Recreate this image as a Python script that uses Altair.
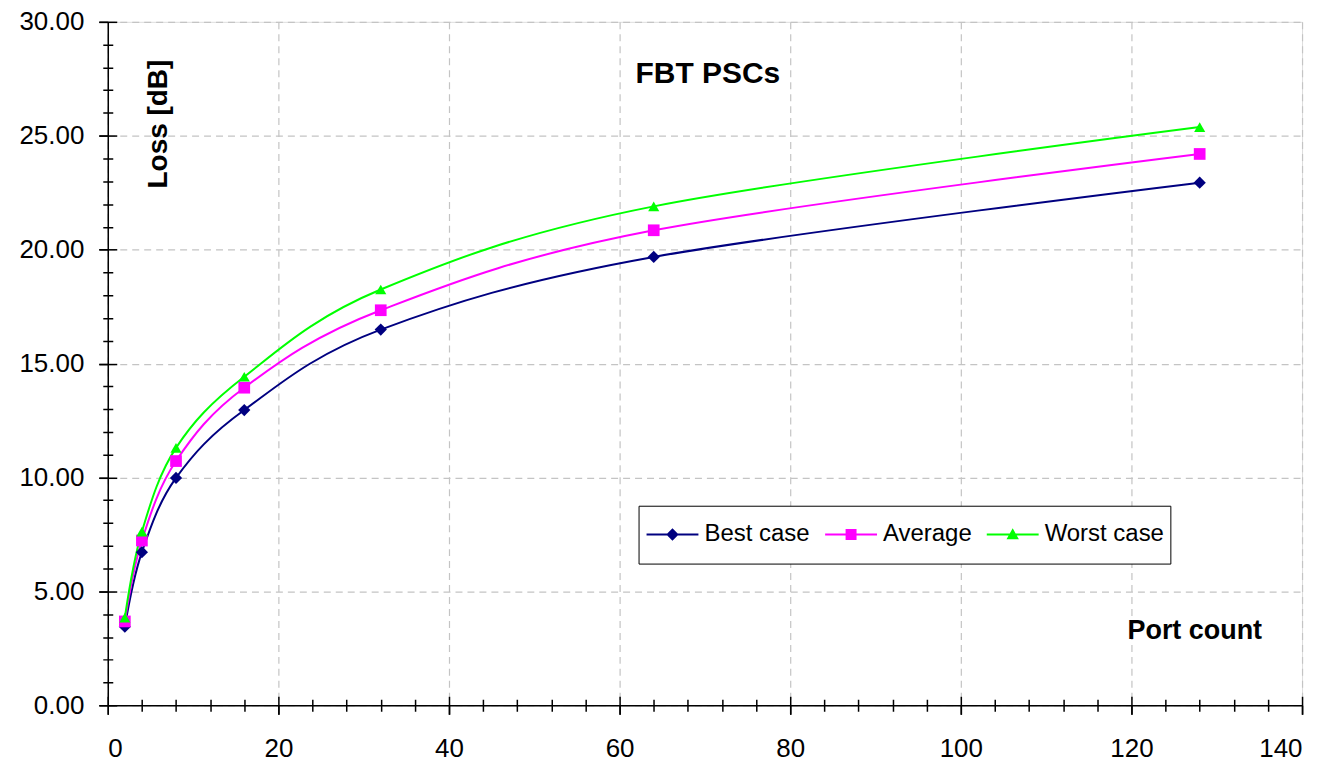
import altair as alt
import pandas as pd

FONT = "Liberation Sans"

ports = [2, 4, 8, 16, 32, 64, 128]
best = [3.45, 6.72, 9.98, 12.96, 16.49, 19.68, 22.94]
average = [3.68, 7.23, 10.72, 13.94, 17.34, 20.85, 24.20]
worst = [3.85, 7.62, 11.30, 14.42, 18.25, 21.90, 25.38]
series_names = ["Best case", "Average", "Worst case"]
colors = ["#000080", "#FF00FF", "#00FF00"]
x_ticks = list(range(0, 141, 20))
x_minor = list(range(0, 141, 4))
y_ticks = list(range(0, 31, 5))
y_minor = list(range(0, 31, 1))

rows = []
for name, vals in zip(series_names, [best, average, worst]):
    for p, v in zip(ports, vals):
        rows.append({"Port": p, "Loss": v, "Series": name})
df = pd.DataFrame(rows)

shapes = ["diamond", "square", "triangle-up"]
shape_sizes = [150, 125, 180]
line_part = "M-0.911,-0.044H1.4V0.044H-0.911Z M0.244,-1.02L0.244,1.02 "
legend_paths = [
    line_part + "M0.244,-0.28L0.52,0L0.244,0.28L-0.032,0Z",
    line_part + "M0,-0.244H0.488V0.244H0Z",
    line_part + "M0.244,-0.27L0.52,0.22H-0.032Z",
]


def xs():
    return alt.Scale(domain=[0, 140], nice=False, zero=False)


def ys():
    return alt.Scale(domain=[0, 30], nice=False, zero=False)


def cs():
    return alt.Scale(domain=series_names, range=colors)


x_main = alt.X(
    "Port:Q", scale=xs(),
    axis=alt.Axis(
        values=x_ticks, title="Port count", titleX=1089, titleY=-75,
        titleAlign="center", titleBaseline="middle", titleFont=FONT,
        titleFontSize=27, titleFontWeight="bold", titleColor="black",
        labelFont=FONT, labelFontSize=26, labelColor="black", labelPadding=21,
        tickSize=9, tickColor="black", tickWidth=1.5,
        domainColor="black", domainWidth=1.5,
        grid=True, gridColor="#c4c4c4", gridDash=[7, 5], gridWidth=1.2,
    ),
)
y_main = alt.Y(
    "Loss:Q", scale=ys(),
    axis=alt.Axis(
        values=y_ticks, format=".2f", title="Loss [dB]", titleX=51, titleY=102,
        titleAngle=270, titleAlign="center", titleBaseline="middle",
        titleFont=FONT, titleFontSize=28, titleFontWeight="bold", titleColor="black",
        labelFont=FONT, labelFontSize=26, labelColor="black", labelPadding=15,
        tickSize=9, tickColor="black", tickWidth=1.5,
        domainColor="black", domainWidth=1.5,
        grid=True, gridColor="#c4c4c4", gridDash=[7, 5], gridWidth=1.2,
    ),
)

base = alt.Chart(df)
lines = base.mark_line(interpolate="cardinal", strokeWidth=2).encode(
    x=x_main, y=y_main,
    color=alt.Color("Series:N", scale=cs(), legend=None),
    detail="Series:N",
)
points = base.mark_point(filled=True, opacity=1).encode(
    x=x_main, y=y_main,
    color=alt.Color("Series:N", scale=cs(), legend=None),
    shape=alt.Shape("Series:N", scale=alt.Scale(domain=series_names, range=shapes), legend=None),
    size=alt.Size("Series:N", scale=alt.Scale(domain=series_names, range=shape_sizes), legend=None),
)
main_layer = alt.layer(lines, points)

# crossing tick marks (major and minor) drawn by a second pair of axes
tick_dash_y = {"condition": {"test": "datum.value % 5 !== 0", "value": [0, 4, 10, 30]}, "value": [30, 1]}
tick_dash_x = {"condition": {"test": "datum.value % 20 !== 0", "value": [0, 3, 12, 30]}, "value": [30, 1]}
ticks_layer = base.mark_point(opacity=0).encode(
    x=alt.X("Port:Q", scale=xs(), axis=alt.Axis(
        orient="bottom", offset=-9, values=x_minor, labels=False, domain=False,
        grid=False, title=None, tickSize=18, tickColor="black", tickWidth=1.5,
        tickDash=tick_dash_x)),
    y=alt.Y("Loss:Q", scale=ys(), axis=alt.Axis(
        orient="left", offset=-9, values=y_minor, labels=False, domain=False,
        grid=False, title=None, tickSize=18, tickColor="black", tickWidth=1.5,
        tickDash=tick_dash_y)),
).transform_filter("false")

leg = alt.Legend(
    orient="none", legendX=532, legendY=485, direction="horizontal", title=None,
    labelFont=FONT, labelFontSize=24, labelColor="black", labelOffset=15,
    symbolSize=2025, symbolStrokeWidth=0, symbolOpacity=1,
    columnPadding=13, padding=6, strokeColor="black", fillColor="white",
)
legend_layer = base.mark_point(filled=True, opacity=1, size=2025).encode(
    color=alt.Color("Series:N", scale=cs(), legend=leg),
    shape=alt.Shape("Series:N", scale=alt.Scale(domain=series_names, range=legend_paths), legend=leg),
).transform_filter("false")

chart = alt.layer(main_layer, ticks_layer, legend_layer).resolve_scale(
    x="independent", y="independent", color="independent", shape="independent"
).properties(
    width=1197, height=685,
    autosize=alt.AutoSizeParams(type="none"),
    padding={"left": 100, "top": 13, "right": 20, "bottom": 57},
    title=alt.Title("FBT PSCs", font=FONT, fontSize=30, fontWeight="bold",
                    anchor="middle", frame="group", offset=0, dy=95, dx=3,
                    baseline="middle", color="black"),
).configure_view(stroke="#808080", strokeWidth=1.5).configure(background="white")

chart.save("out.html", embed_options={"renderer": "svg", "actions": False})
